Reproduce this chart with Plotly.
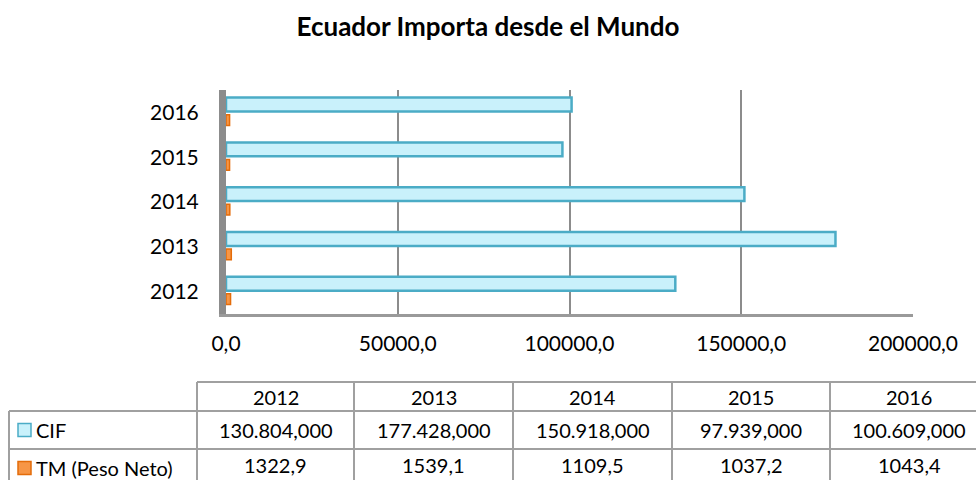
import plotly.graph_objects as go

# ---------------- data ----------------
years = ["2012", "2013", "2014", "2015", "2016"]
cif_values = [130804.0, 177428.0, 150918.0, 97939.0, 100609.0]
tm_values = [1322.9, 1539.1, 1109.5, 1037.2, 1043.4]
cif_labels = ["130.804,000", "177.428,000", "150.918,000", "97.939,000", "100.609,000"]
tm_labels = ["1322,9", "1539,1", "1109,5", "1037,2", "1043,4"]
series_names = ["CIF", "TM (Peso Neto)"]
tick_values = [0, 50000, 100000, 150000, 200000]
tick_labels = ["0,0", "50000,0", "100000,0", "150000,0", "200000,0"]
chart_title = "Ecuador Importa desde el Mundo"

# ---------------- style ----------------
W, H = 976, 480
FONT = "Lato"
CIF_FILL = "#c9f1fb"
CIF_LINE = "#4bacc6"
TM_FILL = "#f79646"
TM_LINE = "#e46c0a"
GRID = "#8c8c8c"
TABLE_LINE = "#a0a0a0"


def px_x(x):
    return x / W


def px_y(y):
    return 1 - y / H


fig = go.Figure()

fig.add_trace(go.Bar(
    y=years, x=cif_values, orientation="h", name=series_names[0],
    width=0.31, offset=0.02,
    marker=dict(color=CIF_FILL, line=dict(color=CIF_LINE, width=2.5)),
    showlegend=False, hoverinfo="x+y",
))
fig.add_trace(go.Bar(
    y=years, x=tm_values, orientation="h", name=series_names[1],
    width=0.24, offset=-0.29,
    marker=dict(color=TM_FILL, line=dict(color=TM_LINE, width=1.5)),
    showlegend=False, hoverinfo="x+y",
))

fig.update_layout(
    width=W, height=H,
    margin=dict(l=0, r=0, t=0, b=0, autoexpand=False),
    paper_bgcolor="white", plot_bgcolor="white",
    font=dict(family=FONT, size=20, color="#000000"),
    barmode="overlay",
    title=dict(text="<b>" + chart_title + "</b>", x=0.5, xanchor="center",
               y=px_y(27), yanchor="middle",
               font=dict(family=FONT, size=26, color="#000000")),
    xaxis=dict(
        domain=[px_x(226), px_x(913)], range=[0, 200000],
        tickvals=tick_values, ticktext=tick_labels,
        showgrid=True, gridcolor=GRID, gridwidth=2,
        zeroline=False, showline=True, linecolor="#9a9a9a", linewidth=3,
        ticks="", ticklabelstandoff=9, automargin=False,
        tickfont=dict(family=FONT, size=21, color="#000000"),
    ),
    yaxis=dict(
        domain=[px_y(314), px_y(90)], type="category",
        categoryorder="array", categoryarray=years, range=[-0.5, 4.5],
        showgrid=False, zeroline=False,
        showline=True, linecolor="#8c8c8c", linewidth=7,
        ticks="", ticklabelstandoff=16, automargin=False,
        tickfont=dict(family=FONT, size=21, color="#000000"),
    ),
)

# ---------------- data table under the chart ----------------
col_edges = [9, 197, 354, 513, 672, 830, 988]
row_edges = [382, 411, 449, 487]
shapes = []
shapes.append(dict(type="line", xref="paper", yref="paper",
                   x0=px_x(col_edges[1]), x1=px_x(col_edges[-1]),
                   y0=px_y(row_edges[0]), y1=px_y(row_edges[0]),
                   line=dict(color=TABLE_LINE, width=2)))
for r in row_edges[1:]:
    shapes.append(dict(type="line", xref="paper", yref="paper",
                       x0=px_x(col_edges[0]), x1=px_x(col_edges[-1]),
                       y0=px_y(r), y1=px_y(r),
                       line=dict(color=TABLE_LINE, width=2)))
shapes.append(dict(type="line", xref="paper", yref="paper",
                   x0=px_x(col_edges[0]), x1=px_x(col_edges[0]),
                   y0=px_y(row_edges[1]), y1=px_y(row_edges[-1]),
                   line=dict(color=TABLE_LINE, width=2)))
for c in col_edges[1:-1]:
    shapes.append(dict(type="line", xref="paper", yref="paper",
                       x0=px_x(c), x1=px_x(c),
                       y0=px_y(row_edges[0]), y1=px_y(row_edges[-1]),
                       line=dict(color=TABLE_LINE, width=2)))

key_specs = [(CIF_FILL, CIF_LINE), (TM_FILL, TM_LINE)]
annotations = []
for i, (name, (fill, line)) in enumerate(zip(series_names, key_specs)):
    yc = (row_edges[i + 1] + row_edges[i + 2]) / 2
    shapes.append(dict(type="rect", xref="paper", yref="paper",
                       x0=px_x(18), x1=px_x(31), y0=px_y(yc + 6.5), y1=px_y(yc - 6.5),
                       fillcolor=fill, line=dict(color=line, width=1.5)))
    annotations.append(dict(text=name, xref="paper", yref="paper",
                            x=px_x(34), y=px_y(yc), xanchor="left", yanchor="middle",
                            showarrow=False, font=dict(family=FONT, size=20, color="#000")))

for j, yr in enumerate(years):
    xc = (col_edges[j + 1] + col_edges[j + 2]) / 2
    rows_text = [yr, cif_labels[j], tm_labels[j]]
    for r, txt in enumerate(rows_text):
        yc = (row_edges[r] + row_edges[r + 1]) / 2
        if r == 2:
            yc = 465
        annotations.append(dict(text=txt, xref="paper", yref="paper",
                                x=px_x(xc), y=px_y(yc), xanchor="center", yanchor="middle",
                                showarrow=False, font=dict(family=FONT, size=20, color="#000")))

fig.update_layout(shapes=shapes, annotations=annotations)

fig.write_html(
    "out.html",
    config={"displayModeBar": False},
    post_script="document.body.style.margin='0';document.body.style.overflow='hidden';",
)
